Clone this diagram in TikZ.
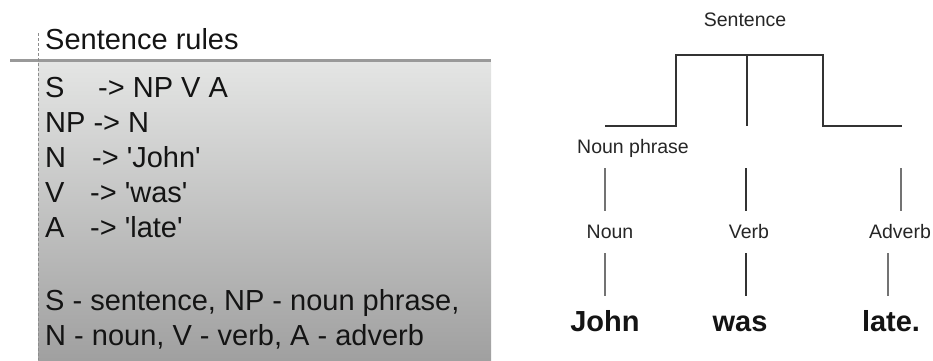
\documentclass[tikz,border=0pt]{standalone}
\usepackage{fontspec}
\setmainfont{Liberation Sans}
\newcommand{\sq}{\textquotesingle}
\begin{document}
\begin{tikzpicture}[x=1pt,y=-1pt,
  rule/.style={anchor=base west,inner sep=0pt,text=black!92,font=\fontsize{29}{35}\selectfont},
  lab/.style={anchor=base,inner sep=0pt,text=black!85,font=\fontsize{19.5}{23}\selectfont},
  word/.style={anchor=base,inner sep=0pt,text=black!92,font=\fontsize{29}{35}\selectfont\bfseries},
  branch/.style={draw=black!80,line width=1.3pt},
  stem/.style={draw=black!55,line width=1.3pt}]
\useasboundingbox (0,0) rectangle (933,360);

% rules panel
\shade[top color={rgb,255:red,228;green,229;blue,228},bottom color={rgb,255:red,160;green,160;blue,160}]
  (38,62) rectangle (491,360);
\coordinate (hl) at (10,60);
\coordinate (hr) at (491,60);
\draw[black!40,line width=3pt] (hl) -- (hr);
\coordinate (vt) at (38,33);
\coordinate (vb) at (38,360);
\draw[black!45,line width=0.8pt,dash pattern=on 3pt off 2pt] (vt) -- (vb);

\node[rule] (title) at (45,49) {Sentence rules};
\node[rule] (r1a) at (45,97) {S};
\node[rule] (r1b) at (98,97) {-> NP V A};
\node[rule] (r2) at (45,132) {NP -> N};
\node[rule] (r3a) at (45,167) {N};
\node[rule] (r3b) at (92,167) {-> \sq John\sq};
\node[rule] (r4a) at (45,202) {V};
\node[rule] (r4b) at (90,202) {-> \sq was\sq};
\node[rule] (r5a) at (45,237) {A};
\node[rule] (r5b) at (90,237) {-> \sq late\sq};
\node[rule] (k1) at (45,310) {S - sentence, NP - noun phrase,};
\node[rule] (k2) at (45,345) {N - noun, V - verb, A - adverb};

% parse tree
\node[lab] (s) at (745,26) {Sentence};
\node[lab] (np) at (633,153) {Noun phrase};
\node[lab] (n) at (610,238) {Noun};
\node[lab] (v) at (749,238) {Verb};
\node[lab] (a) at (900,238) {Adverb};
\node[word] (w1) at (605,331) {John};
\node[word] (w2) at (740,331) {was};
\node[word] (w3) at (891,331) {late.};

\coordinate (t1) at (605,126);
\coordinate (t2) at (676,126);
\coordinate (t3) at (676,55);
\coordinate (t4) at (823,55);
\coordinate (t5) at (823,126);
\coordinate (t6) at (902,126);
\coordinate (c1) at (747,55);
\coordinate (c2) at (747,126);
\draw[branch] (t1) -- (t2) -- (t3) -- (t4) -- (t5) -- (t6);
\draw[branch] (c1) -- (c2);

\coordinate (p1) at (605,168);
\coordinate (p2) at (605,211);
\coordinate (p3) at (746,168);
\coordinate (p4) at (746,211);
\coordinate (p5) at (901,168);
\coordinate (p6) at (901,211);
\draw[stem] (p1) -- (p2);
\draw[branch] (p3) -- (p4);
\draw[stem] (p5) -- (p6);

\coordinate (q1) at (605,253);
\coordinate (q2) at (605,296);
\coordinate (q3) at (746,253);
\coordinate (q4) at (746,296);
\coordinate (q5) at (888,253);
\coordinate (q6) at (888,296);
\draw[stem] (q1) -- (q2);
\draw[branch] (q3) -- (q4);
\draw[stem] (q5) -- (q6);
\end{tikzpicture}
\end{document}
